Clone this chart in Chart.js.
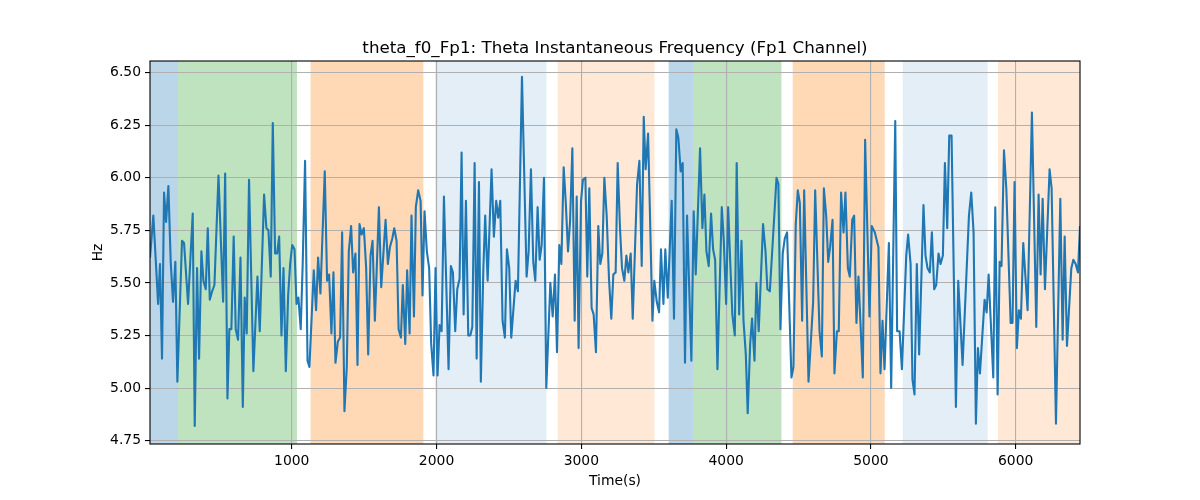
<!DOCTYPE html>
<html><head><meta charset="utf-8">
<script src="https://cdn.jsdelivr.net/npm/chart.js@4"></script>
<style>html,body{margin:0;padding:0;background:#fff}#wrap{width:1200px;height:500px}</style>
</head><body><div id="wrap"><canvas id="c" width="1200" height="500"></canvas></div>
<script>
const times = [21,44,77,90,104,118,132,148,164,180,196,210,242,256,284,316,330,346,360,376,390,406,420,434,450,466,494,526,540,556,569,583,599,613,629,646,662,675,689,705,735,
763,779,809,825,839,855,869,885,899,913,929,943,959,975,989,1003,1019,1033,1046,1062,1076,1092,1109,1122,1152,1168,1182,1198,1228,1244,1258,1274,1288,1302,1318,1334,1348,1364,1380,1394,1410,1424,1440,1454,
1468,1482,1498,1514,1528,1544,1558,1574,1602,1618,1648,1664,1678,1694,1708,1724,1738,1754,1767,1784,1797,1814,1827,1844,1857,1873,1890,1903,1917,1933,1949,1963,1979,1993,2007,2021,2035,2051,2083,2099,2113,2129,2143,2159,2173,
2187,2203,2219,2233,2247,2263,2277,2293,2306,2323,2336,2353,2380,2396,2412,2426,2440,2456,2472,2486,2502,2516,2546,2562,2590,2622,2636,2652,2668,2682,2698,2712,2726,2742,2758,2786,2802,2818,2832,2848,2862,2878,
2892,2908,2922,2938,2954,2968,2981,2998,3011,3028,3041,3055,3071,3085,3101,3117,3131,3145,3159,3175,3191,3207,3221,3237,3251,3267,3281,3297,3311,3325,3341,3355,3385,3401,3417,3431,3444,3461,3491,3504,3521,3537,3550,3567,3580,3597,
3624,3640,3656,3670,3686,3700,3716,3730,3760,3776,3790,3820,3836,3850,3864,3880,3896,3910,3924,3940,3970,3984,4000,4014,4030,4043,4060,4073,4090,4106,4120,4136,4149,4166,4179,4196,4209,4225,4255,4272,4285,4302,
4348,4361,4375,4391,4405,4421,4451,4465,4481,4495,4509,4525,4539,4569,4601,4615,4645,4661,4675,4691,4705,4718,4735,4748,4765,4778,4794,4811,4824,4841,4854,4871,4884,4900,4914,4944,4960,4990,5006,
5027,5052,5066,5080,5094,5124,5140,5168,5181,5198,5214,5244,5257,5274,5287,5301,5317,5333,5363,5377,5391,5407,5421,5437,5451,5467,5481,5497,5511,5527,5541,5557,5587,5603,5633,5677,5693,5709,5725,
5739,5753,5785,5799,5813,5845,5859,5875,5889,5902,5919,5935,5965,5978,5992,6008,6022,6036,6052,6082,6112,6142,6158,6172,6186,6202,6234,6248,6278,6308,6324,6338,6354,6384,6398,6414,6430,6444];
const values = [5.62,5.82,5.40,5.59,5.14,5.93,5.79,5.96,5.60,5.41,5.60,5.03,5.70,5.69,5.40,5.83,4.82,5.57,5.14,5.65,5.51,5.47,5.76,5.42,5.46,5.49,6.01,5.41,6.02,4.95,5.28,5.28,5.72,5.28,5.23,5.62,4.91,5.43,5.26,5.99,5.08,
5.53,5.27,5.92,5.76,5.75,5.53,6.26,5.64,5.64,5.72,5.25,5.57,5.08,5.44,5.59,5.68,5.66,5.40,5.43,5.28,5.60,6.08,5.13,5.10,5.56,5.37,5.62,5.45,6.03,5.51,5.54,5.26,5.55,5.12,5.22,5.24,5.74,4.89,5.10,5.65,5.77,5.55,5.64,5.11,
5.78,5.73,5.76,5.57,5.16,5.63,5.70,5.32,5.86,5.48,5.80,5.59,5.67,5.71,5.76,5.70,5.28,5.24,5.49,5.21,5.56,5.26,5.82,5.34,5.86,5.94,5.89,5.44,5.84,5.65,5.57,5.21,5.06,5.57,5.06,5.30,5.27,5.91,5.09,5.58,5.55,5.27,5.47,5.52,6.12,
5.35,5.89,5.25,5.25,5.29,6.07,5.14,5.98,5.03,5.56,5.82,5.51,6.04,5.72,5.89,5.81,5.89,5.32,5.24,5.66,5.57,5.24,5.51,5.46,6.48,5.53,5.65,6.04,5.60,5.51,5.86,5.61,5.68,6.00,5.00,5.50,5.34,5.54,5.17,5.68,5.59,6.05,
5.89,5.65,5.79,6.14,5.32,5.91,5.19,5.89,5.99,6.00,5.53,5.95,5.38,5.35,5.17,5.77,5.59,5.64,6.00,5.82,5.52,5.33,5.54,5.55,6.07,5.76,5.57,5.51,5.63,5.55,5.64,5.33,5.97,6.08,5.58,6.29,6.04,6.21,5.32,5.51,5.41,5.36,5.66,5.40,5.66,5.43,
5.89,5.33,6.23,6.19,6.03,6.07,5.12,5.82,5.13,5.84,5.54,6.14,5.76,5.92,5.65,5.58,5.83,5.66,5.61,5.09,5.86,5.70,5.40,5.86,5.57,5.35,5.25,6.07,5.35,5.70,5.32,5.16,4.88,5.21,5.33,5.13,5.50,5.27,5.78,5.65,5.47,5.46,
6.00,5.97,5.28,5.64,5.71,5.74,5.05,5.10,5.78,5.94,5.88,5.32,5.94,5.03,5.41,5.94,5.27,5.15,5.95,5.82,5.60,5.67,5.80,5.07,5.27,5.27,5.93,5.74,5.93,5.57,5.53,5.80,5.82,5.31,5.53,5.05,6.18,5.34,5.77,
5.74,5.67,5.07,5.32,5.09,5.69,5.00,6.27,5.27,5.27,5.09,5.63,5.73,5.59,5.04,4.97,5.59,5.16,5.87,5.63,5.57,5.55,5.74,5.47,5.49,5.64,5.59,5.63,6.07,5.76,6.20,6.20,4.91,5.51,5.11,5.82,5.93,5.74,4.83,
5.19,5.07,5.42,5.36,5.54,5.05,5.86,4.97,5.60,5.58,6.13,5.95,5.31,5.31,5.98,5.19,5.37,5.33,5.69,5.37,6.31,5.29,5.92,5.54,5.90,5.47,6.04,5.95,4.83,5.90,5.23,5.72,5.20,5.57,5.61,5.59,5.55,5.77];
const xTicks = [1000,2000,3000,4000,5000,6000];
const yTicks = [4.75,5.00,5.25,5.50,5.75,6.00,6.25,6.50];
const spanStarts = [0,215,1130,1990,2836,3603,3776,4460,5220,5877];
const spanEnds   = [215,1036,1909,2759,3505,3776,4382,5095,5806,6500];
const spanColors = ['rgba(31,119,180,0.3)','rgba(44,160,44,0.3)','rgba(255,127,14,0.3)','rgba(31,119,180,0.12)','rgba(255,127,14,0.17)',
                    'rgba(31,119,180,0.3)','rgba(44,160,44,0.3)','rgba(255,127,14,0.3)','rgba(31,119,180,0.12)','rgba(255,127,14,0.17)'];
const titleText = 'theta_f0_Fp1: Theta Instantaneous Frequency (Fp1 Channel)';
const xLabel = 'Time(s)';
const yLabel = 'Hz';

const FONT = '"DejaVu Sans", sans-serif';
Chart.defaults.font.family = FONT;
Chart.defaults.font.size = 13.9;
Chart.defaults.color = '#000';

const deco = {
  id: 'deco',
  beforeDraw(chart) {
    const {ctx, chartArea: a, scales: {x}} = chart;
    ctx.save();
    ctx.fillStyle = '#fff';
    ctx.fillRect(0, 0, chart.width, chart.height);
    ctx.beginPath(); ctx.rect(a.left, a.top, a.right - a.left, a.bottom - a.top); ctx.clip();
    for (let i = 0; i < spanStarts.length; i++) {
      const x1 = x.getPixelForValue(spanStarts[i]);
      const x2 = x.getPixelForValue(spanEnds[i]);
      ctx.fillStyle = spanColors[i];
      ctx.fillRect(x1, a.top, x2 - x1, a.bottom - a.top);
    }
    ctx.restore();
  },
  afterDraw(chart) {
    const {ctx, chartArea: a} = chart;
    ctx.save();
    ctx.strokeStyle = '#000';
    ctx.lineWidth = 1.1;
    ctx.strokeRect(a.left, a.top, a.right - a.left, a.bottom - a.top);
    ctx.fillStyle = '#000';
    ctx.font = '16.7px ' + FONT;
    ctx.textAlign = 'center';
    ctx.textBaseline = 'alphabetic';
    ctx.fillText(titleText, (a.left + a.right) / 2, 52.5);
    ctx.font = '13.9px ' + FONT;
    ctx.fillText(xLabel, (a.left + a.right) / 2, 485);
    ctx.translate(102, (a.top + a.bottom) / 2);
    ctx.rotate(-Math.PI / 2);
    ctx.fillText(yLabel, 0, 0);
    ctx.restore();
  }
};

new Chart(document.getElementById('c'), {
  type: 'line',
  data: {
    datasets: [{
      data: times.map((t, i) => ({x: t, y: values[i]})),
      borderColor: '#1f77b4',
      borderWidth: 2.1,
      pointRadius: 0,
      tension: 0,
      borderJoinStyle: 'round',
      fill: false
    }]
  },
  options: {
    responsive: false,
    animation: false,
    devicePixelRatio: 1,
    layout: {padding: {top: 61, right: 120, left: 0, bottom: 0}},
    plugins: {legend: {display: false}, title: {display: false}, tooltip: {enabled: false}},
    scales: {
      x: {
        type: 'linear',
        min: 21, max: 6444,
        afterBuildTicks: s => { s.ticks = xTicks.map(v => ({value: v})); },
        afterFit: s => { s.height = 56; },
        grid: {color: '#b0b0b0', lineWidth: 1.1, tickLength: 5, tickColor: '#000', drawTicks: true},
        border: {display: false},
        ticks: {padding: 4, maxRotation: 0, autoSkip: false, callback: v => String(v)}
      },
      y: {
        type: 'linear',
        min: 4.734, max: 6.555,
        afterBuildTicks: s => { s.ticks = yTicks.map(v => ({value: v})); },
        afterFit: s => { s.width = 150; },
        grid: {color: '#b0b0b0', lineWidth: 1.1, tickLength: 5, tickColor: '#000', drawTicks: true},
        border: {display: false},
        ticks: {padding: 4, autoSkip: false, callback: v => Number(v).toFixed(2)}
      }
    }
  },
  plugins: [deco]
});
</script>
</body></html>
